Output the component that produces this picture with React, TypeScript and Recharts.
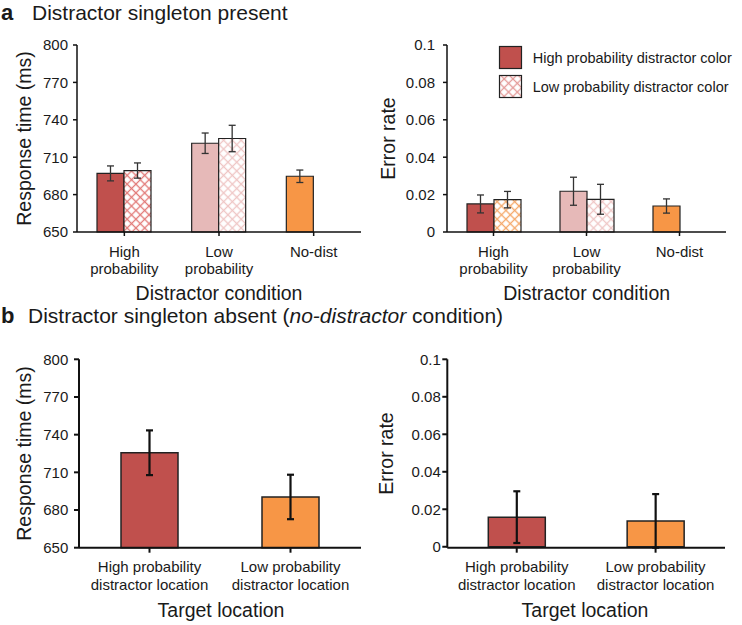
import React from 'react';
import { BarChart, Bar, XAxis, YAxis, ErrorBar, Cell } from 'recharts';

const FONT = '"Liberation Sans", Arial, sans-serif';
const INK = '#1a1a1a';

// panel a: distractor singleton present
const presentCategories = ['High probability', 'Low probability', 'No-dist'];
const presentTickLines = [['High', 'probability'], ['Low', 'probability'], ['No-dist']];
const rtSolid = [697, 721.2, 694.7];
const rtSolidErr = [6, 8.2, 5];
const rtHatched = [699.3, 725, null];
const rtHatchedErr = [6.1, 10.6, null];
const erSolid = [0.015, 0.0218, 0.0139];
const erSolidErr = [0.0048, 0.0075, 0.0038];
const erHatched = [0.0173, 0.0175, null];
const erHatchedErr = [0.0044, 0.008, null];

// panel b: distractor singleton absent
const absentCategories = ['High probability distractor location', 'Low probability distractor location'];
const absentTickLines = [['High probability', 'distractor location'], ['Low probability', 'distractor location']];
const rtAbsent = [725.6, 690.4];
const rtAbsentErr = [17.8, 17.7];
const erAbsent = [0.0158, 0.0138];
const erAbsentErr = [0.0138, 0.0143];

const rtTicks = [650, 680, 710, 740, 770, 800];
const erTicks = [0, 0.02, 0.04, 0.06, 0.08, 0.1];
const legendLabels = ['High probability distractor color', 'Low probability distractor color'];

const RED = '#c0504d';
const PINK = '#e6b9b8';
const ORANGE = '#f79646';

const rtPresentData = presentCategories.map((cat, i) => ({
  cat, solid: rtSolid[i], solidErr: rtSolidErr[i], hatched: rtHatched[i], hatchedErr: rtHatchedErr[i],
}));
const erPresentData = presentCategories.map((cat, i) => ({
  cat, solid: erSolid[i], solidErr: erSolidErr[i], hatched: erHatched[i], hatchedErr: erHatchedErr[i],
}));
const rtAbsentData = absentCategories.map((cat, i) => ({ cat, value: rtAbsent[i], err: rtAbsentErr[i] }));
const erAbsentData = absentCategories.map((cat, i) => ({ cat, value: erAbsent[i], err: erAbsentErr[i] }));

const hatch = (id: string, color: string) => (
  <pattern id={id} width={6.2} height={6.2} patternUnits="userSpaceOnUse" patternTransform="rotate(45)">
    <rect width={6.2} height={6.2} fill="#fff" />
    <path d="M3.1,0 V6.2 M0,3.1 H6.2" stroke={color} strokeWidth={1.3} />
  </pattern>
);

const CatTick = (props: any) => {
  const { x, y, payload, categories, lines, first, gap } = props;
  const idx = categories.indexOf(payload.value);
  const rows: string[] = lines[idx] || [payload.value];
  return (
    <text x={x} y={y + first} textAnchor="middle" fill={INK} fontSize={15} fontFamily={FONT}>
      {rows.map((r, k) => (
        <tspan key={k} x={x} dy={k === 0 ? 0 : gap}>{r}</tspan>
      ))}
    </text>
  );
};

const yTick = { fill: INK, fontSize: 15, fontFamily: FONT };
const thinAxis = { stroke: '#111', strokeWidth: 1.5 };
const thickAxis = { stroke: '#111', strokeWidth: 2 };

export default function App() {
  return (
    <div style={{ position: 'absolute', left: 0, top: 0, width: 742, height: 625, background: '#fff', fontFamily: FONT }}>
      <div style={{ position: 'absolute', left: 0, top: 0 }}>
        <BarChart width={380} height={300} data={rtPresentData} margin={{ top: 45, right: 19, bottom: 0, left: 0 }} barGap={0} barSize={27}>
          <defs>
            {hatch('hatchRedA', '#e27a78')}
            {hatch('hatchPinkA', '#efc6c5')}
          </defs>
          <XAxis dataKey="cat" height={68} interval={0} tickSize={4} axisLine={thinAxis} tickLine={thinAxis}
            tick={(p: any) => <CatTick {...p} categories={presentCategories} lines={presentTickLines} first={19.4} gap={17} />} />
          <YAxis width={77} domain={[650, 800]} ticks={rtTicks} tickSize={4} tickMargin={5} axisLine={thinAxis} tickLine={thinAxis} tick={yTick} />
          <Bar dataKey="solid" stroke="#222" strokeWidth={1.2} isAnimationActive={false}>
            {[RED, PINK, ORANGE].map((c, i) => <Cell key={i} fill={c} />)}
            <ErrorBar dataKey="solidErr" width={3.5} stroke="#333" strokeWidth={1.3} />
          </Bar>
          <Bar dataKey="hatched" stroke="#222" strokeWidth={1.2} isAnimationActive={false}>
            {['url(#hatchRedA)', 'url(#hatchPinkA)', 'none'].map((c, i) => <Cell key={i} fill={c} />)}
            <ErrorBar dataKey="hatchedErr" width={3.5} stroke="#333" strokeWidth={1.3} />
          </Bar>
        </BarChart>
      </div>

      <div style={{ position: 'absolute', left: 370, top: 0 }}>
        <BarChart width={372} height={300} data={erPresentData} margin={{ top: 45, right: 16, bottom: 0, left: 0 }} barGap={0} barSize={27}>
          <defs>
            {hatch('hatchOrangeB', '#f5a869')}
            {hatch('hatchPinkB', '#efc6c5')}
          </defs>
          <XAxis dataKey="cat" height={68} interval={0} tickSize={4} axisLine={thinAxis} tickLine={thinAxis}
            tick={(p: any) => <CatTick {...p} categories={presentCategories} lines={presentTickLines} first={19.4} gap={17} />} />
          <YAxis width={77} domain={[0, 0.1]} ticks={erTicks} tickSize={4} tickMargin={8} axisLine={thinAxis} tickLine={thinAxis} tick={yTick} />
          <Bar dataKey="solid" stroke="#222" strokeWidth={1.2} isAnimationActive={false}>
            {[RED, PINK, ORANGE].map((c, i) => <Cell key={i} fill={c} />)}
            <ErrorBar dataKey="solidErr" width={3.5} stroke="#333" strokeWidth={1.3} />
          </Bar>
          <Bar dataKey="hatched" stroke="#222" strokeWidth={1.2} isAnimationActive={false}>
            {['url(#hatchOrangeB)', 'url(#hatchPinkB)', 'none'].map((c, i) => <Cell key={i} fill={c} />)}
            <ErrorBar dataKey="hatchedErr" width={3.5} stroke="#333" strokeWidth={1.3} />
          </Bar>
        </BarChart>
      </div>

      <div style={{ position: 'absolute', left: 0, top: 300 }}>
        <BarChart width={380} height={325} data={rtAbsentData} margin={{ top: 59.3, right: 19, bottom: 0, left: 0 }} barSize={57}>
          <XAxis dataKey="cat" height={77.3} interval={0} tickSize={5} axisLine={thickAxis} tickLine={thickAxis}
            tick={(p: any) => <CatTick {...p} categories={absentCategories} lines={absentTickLines} first={17} gap={18.5} />} />
          <YAxis width={79} domain={[650, 800]} ticks={rtTicks} tickSize={5} tickMargin={5.7} axisLine={thickAxis} tickLine={thickAxis} tick={yTick} />
          <Bar dataKey="value" stroke="#222" strokeWidth={1.5} isAnimationActive={false}>
            {[RED, ORANGE].map((c, i) => <Cell key={i} fill={c} />)}
            <ErrorBar dataKey="err" width={3.5} stroke="#111" strokeWidth={2.2} />
          </Bar>
        </BarChart>
      </div>

      <div style={{ position: 'absolute', left: 370, top: 300 }}>
        <BarChart width={372} height={325} data={erAbsentData} margin={{ top: 59.3, right: 17, bottom: 0, left: 0 }} barSize={57}>
          <XAxis dataKey="cat" height={77.3} interval={0} tickSize={5} axisLine={thickAxis} tickLine={thickAxis}
            tick={(p: any) => <CatTick {...p} categories={absentCategories} lines={absentTickLines} first={17} gap={18.5} />} />
          <YAxis width={77.3} domain={[0, 0.1]} ticks={erTicks} tickSize={5} tickMargin={1.5} axisLine={thickAxis} tickLine={thickAxis} tick={yTick} />
          <Bar dataKey="value" stroke="#222" strokeWidth={1.5} isAnimationActive={false}>
            {[RED, ORANGE].map((c, i) => <Cell key={i} fill={c} />)}
            <ErrorBar dataKey="err" width={3.5} stroke="#111" strokeWidth={2.2} />
          </Bar>
        </BarChart>
      </div>

      {/* titles, axis titles and legend */}
      <svg width={742} height={625} style={{ position: 'absolute', left: 0, top: 0, pointerEvents: 'none' }} fontFamily={FONT} fill={INK}>
        <defs>{hatch('hatchLegend', '#e49a98')}</defs>
        <text x={1} y={19.5} fontSize={22} fontWeight="bold">a</text>
        <text x={32} y={19.5} fontSize={21}>Distractor singleton present</text>
        <text x={1} y={322.7} fontSize={22} fontWeight="bold">b</text>
        <text x={28} y={322.7} fontSize={21}>
          Distractor singleton absent (<tspan fontStyle="italic">no-distractor</tspan> condition)
        </text>

        <text x={219} y={300} fontSize={19.5} textAnchor="middle">Distractor condition</text>
        <text x={586.7} y={300} fontSize={19.5} textAnchor="middle">Distractor condition</text>
        <text x={221} y={617.3} fontSize={19.5} textAnchor="middle">Target location</text>
        <text x={585} y={617.3} fontSize={19.5} textAnchor="middle">Target location</text>

        <text x={31} y={138.5} fontSize={19.5} textAnchor="middle" transform="rotate(-90 31 138.5)">Response time (ms)</text>
        <text x={395} y={138.5} fontSize={19.5} textAnchor="middle" transform="rotate(-90 395 138.5)">Error rate</text>
        <text x={30.7} y={453.5} fontSize={19.5} textAnchor="middle" transform="rotate(-90 30.7 453.5)">Response time (ms)</text>
        <text x={393.3} y={453.5} fontSize={19.5} textAnchor="middle" transform="rotate(-90 393.3 453.5)">Error rate</text>

        <rect x={499.5} y={46.5} width={22} height={22} fill={RED} stroke="#222" strokeWidth={1.2} />
        <text x={532.7} y={62.5} fontSize={14.5}>{legendLabels[0]}</text>
        <rect x={499.5} y={75.5} width={22} height={22} fill="url(#hatchLegend)" stroke="#222" strokeWidth={1.2} />
        <text x={532.7} y={91.5} fontSize={14.5}>{legendLabels[1]}</text>
      </svg>
    </div>
  );
}
